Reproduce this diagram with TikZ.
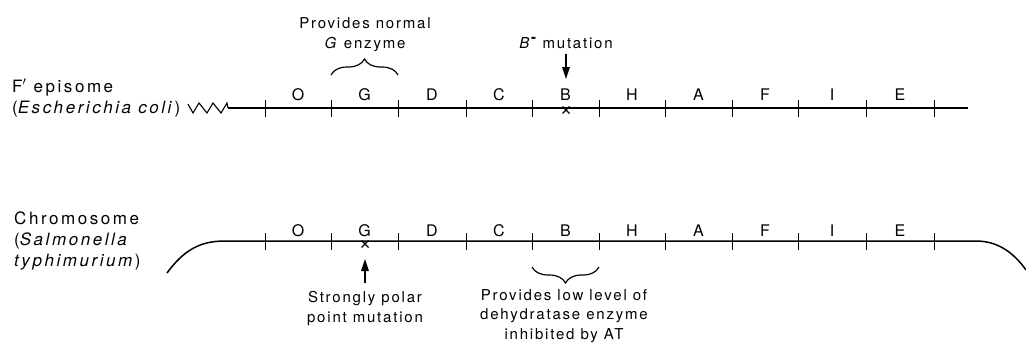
\documentclass[tikz,border=0pt]{standalone}
\usepackage{fontspec}
\setmainfont{TeX Gyre Heros}
\newfontfamily\notefont[LetterSpace=12]{TeX Gyre Heros}
\newfontfamily\sidefont[LetterSpace=15]{TeX Gyre Heros}
\newfontfamily\genefont[LetterSpace=0]{TeX Gyre Heros}
\usetikzlibrary{decorations.pathreplacing,arrows.meta,calc}
\begin{document}
\begin{tikzpicture}[x=1pt,y=-1pt,
  chrom/.style={line width=1.5pt},
  tick/.style={line width=1pt},
  gene/.style={anchor=base,inner sep=0pt,font=\genefont\fontsize{16}{16}\selectfont},
  note/.style={anchor=base,inner sep=0pt,align=center,font=\notefont\fontsize{15}{19.5}\selectfont},
  side/.style={anchor=base west,inner sep=0pt,align=left,font=\sidefont\fontsize{17}{21}\selectfont},
  brc/.style={decorate,decoration={brace,amplitude=16pt},line width=1.2pt},
  mut/.style={-{Triangle[length=12pt,width=7.5pt]},line width=1.3pt},
  xm/.style={line width=1.3pt}]
\useasboundingbox (0,0) rectangle (1026,343);
% tick coordinates
\foreach \i/\x in {0/265,1/331,2/398,3/466,4/532,5/599,6/665,7/732,8/798,9/866,10/934}{
  \coordinate (t\i) at (\x,108);
  \coordinate (b\i) at (\x,241);
}
% ---------- F' episome ----------
\coordinate (zs) at (188,104);
\coordinate (ze) at (228,108);
\coordinate (te) at (968,108);
\draw[line width=1.1pt,line join=miter] (zs) -- (193,113) -- (199,103) -- (207,113) -- (213,103) -- (221,113) -- (227,103) -- (ze);
\draw[chrom] (ze) -- (te);
\foreach \i in {0,...,10}{\draw[tick] ($(t\i)+(0,-8)$) -- ($(t\i)+(0,9)$);}
\foreach \n/\a/\b in {O/0/1,G/1/2,D/2/3,C/3/4,B/4/5,H/5/6,A/6/7,F/7/8,I/8/9,E/9/10}{
  \node[gene] (tg\n) at ($(t\a)!0.5!(t\b)+(0,-8)$) {\n};
}
\node[side] (fepi) at (12,113) {F$'$ episome\\(\textit{Escherichia coli\/})};
\draw[brc] ($(t1)+(0,-33)$) -- ($(t2)+(0,-33)$);
\node[note] (gnote) at (365,48) {Provides normal\\\textit{G} enzyme};
\node[note] (bmut) at (566,48) {\textit{B}$^{\textbf{-}}$ mutation};
\coordinate (bx) at (566,110);
\coordinate (bmt) at (566,54);
\coordinate (bmh) at (566,79);
\draw[mut] (bmt) -- (bmh);
\draw[xm] ($(bx)+(-3.5,-3.5)$) -- ($(bx)+(3.5,3.5)$) ($(bx)+(-3.5,3.5)$) -- ($(bx)+(3.5,-3.5)$);
% ---------- Chromosome ----------
\coordinate (cl) at (167,273);
\coordinate (cls) at (225,241);
\coordinate (cre) at (976,241);
\coordinate (cr) at (1026,270);
\draw[chrom] (cl) .. controls (184,250) and (200,241) .. (cls) -- (cre) .. controls (998,241) and (1014,253) .. (cr);
\foreach \i in {0,...,10}{\draw[tick] ($(b\i)+(0,-8)$) -- ($(b\i)+(0,9)$);}
\foreach \n/\a/\b in {O/0/1,G/1/2,D/2/3,C/3/4,B/4/5,H/5/6,A/6/7,F/7/8,I/8/9,E/9/10}{
  \node[gene] (bg\n) at ($(b\a)!0.5!(b\b)+(0,-5)$) {\n};
}
\node[side] (chromo) at (14,266) {Chromosome\\(\textit{Salmonella}\\\textit{typhimurium\/})};
\coordinate (gx) at (365,244);
\coordinate (gmt) at (365,283);
\coordinate (gmh) at (365,259);
\draw[xm] ($(gx)+(-3.5,-3.5)$) -- ($(gx)+(3.5,3.5)$) ($(gx)+(-3.5,3.5)$) -- ($(gx)+(3.5,-3.5)$);
\draw[mut] (gmt) -- (gmh);
\node[note] (polar) at (365,322) {Strongly polar\\point mutation};
\draw[brc] ($(b5)+(0,26)$) -- ($(b4)+(0,26)$);
\node[note] (lowlev) at (564,339) {Provides low level of\\dehydratase enzyme\\inhibited by AT};
\end{tikzpicture}
\end{document}
